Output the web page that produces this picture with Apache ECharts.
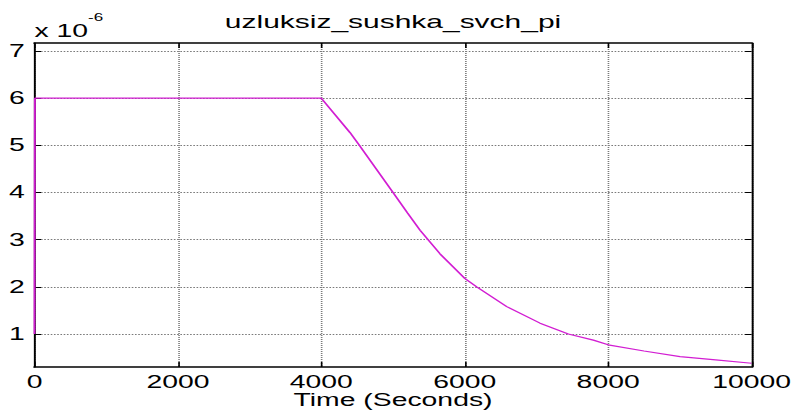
<!DOCTYPE html>
<html><head><meta charset="utf-8">
<script src="https://cdn.jsdelivr.net/npm/echarts@6/dist/echarts.min.js"></script>
<style>
html,body{margin:0;padding:0;background:#fff;overflow:hidden;width:794px;height:414px}
#c{width:490px;height:414px;transform:scaleX(1.6204);transform-origin:0 0;}
</style>
</head><body><div id="c"></div>
<script>
// ---- data (values in units of 1e-6) ----
const titleText = 'uzluksiz_sushka_svch_pi';
const xAxisName = 'Time (Seconds)';
const timeSeconds = [0, 5, 4000, 4400, 4530, 5000, 5200, 5377, 5655, 6000, 6167, 6586, 7050, 7445, 7794, 8000, 8500, 9003, 9500, 10000];
const valueE6     = [1.0, 6.0, 6.0, 5.27, 5.0, 4.0, 3.57, 3.2, 2.70, 2.18, 2.0, 1.58, 1.23, 1.0, 0.87, 0.77, 0.64, 0.52, 0.45, 0.38];
const yTickValues = [1, 2, 3, 4, 5, 6, 7];
const xMin = 0, xMax = 10000, xStep = 2000;
const yMin = 0.3, yMax = 7.17;

const FONT = 'Liberation Sans, Arial, Helvetica, sans-serif';
const chart = echarts.init(document.getElementById('c'), null, {renderer: 'svg'});
const seriesData = timeSeconds.map((t, i) => [t, valueE6[i]]);
const gridLine = {show: true, lineStyle: {color: '#7a7a7a', type: [1, 1], width: 1}};

chart.setOption({
  animation: false,
  backgroundColor: '#fff',
  grid: {left: 21.3, right: 26.2, top: 43, bottom: 47, outerBoundsMode: 'none', containLabel: false},
  xAxis: [{
    type: 'value', position: 'bottom', min: xMin, max: xMax, interval: xStep,
    axisLine: {show: true, onZero: false, lineStyle: {color: '#000', width: 1.7}},
    axisTick: {show: true, inside: true, length: 5, lineStyle: {color: '#000', width: 1}},
    axisLabel: {show: true, margin: 6, color: '#000', fontFamily: FONT, fontSize: 17.5,
      formatter: v => String(v)},
    splitLine: gridLine,
    name: xAxisName, nameLocation: 'middle', nameGap: 24.5, nameMoveOverlap: false,
    nameTextStyle: {color: '#000', fontFamily: FONT, fontSize: 17.5, fontWeight: 'normal'}
  }, {
    type: 'value', position: 'top', min: xMin, max: xMax, interval: xStep,
    axisLine: {show: true, onZero: false, lineStyle: {color: '#000', width: 1.7}},
    axisTick: {show: true, inside: true, length: 5, lineStyle: {color: '#000', width: 1}},
    axisLabel: {show: false},
    splitLine: {show: false},
    name: titleText, nameLocation: 'middle', nameGap: 12, nameMoveOverlap: false,
    nameTextStyle: {color: '#000', fontFamily: FONT, fontSize: 18.5, fontWeight: 'normal'}
  }],
  yAxis: [{
    type: 'value', position: 'left', min: yMin, max: yMax,
    axisLine: {show: true, onZero: false, lineStyle: {color: '#000', width: 1.2}},
    axisTick: {show: true, inside: true, length: 4, customValues: yTickValues, lineStyle: {color: '#000', width: 1}},
    axisLabel: {show: true, margin: 6, color: '#000', fontFamily: FONT, fontSize: 17.5, customValues: yTickValues},
    splitLine: gridLine,
    name: '{a|x 10}{b|-6}', nameLocation: 'end', nameGap: 3,
    nameTextStyle: {
      align: 'left', verticalAlign: 'bottom', color: '#000',
      rich: {
        a: {fontFamily: FONT, fontSize: 17.5, color: '#000', lineHeight: 28, verticalAlign: 'bottom'},
        b: {fontFamily: FONT, fontSize: 10.5, color: '#000', lineHeight: 28, verticalAlign: 'top'}
      }
    }
  }, {
    type: 'value', position: 'right', min: yMin, max: yMax,
    axisLine: {show: true, onZero: false, lineStyle: {color: '#000', width: 1.2}},
    axisTick: {show: true, inside: true, length: 4, customValues: yTickValues, lineStyle: {color: '#000', width: 1}},
    axisLabel: {show: false},
    splitLine: {show: false}
  }],
  series: [{
    type: 'line', xAxisIndex: 0, yAxisIndex: 0, data: seriesData,
    showSymbol: false, symbol: 'none', smooth: false,
    lineStyle: {color: '#d21ed2', width: 1.2}
  }]
});
</script>
</body></html>
